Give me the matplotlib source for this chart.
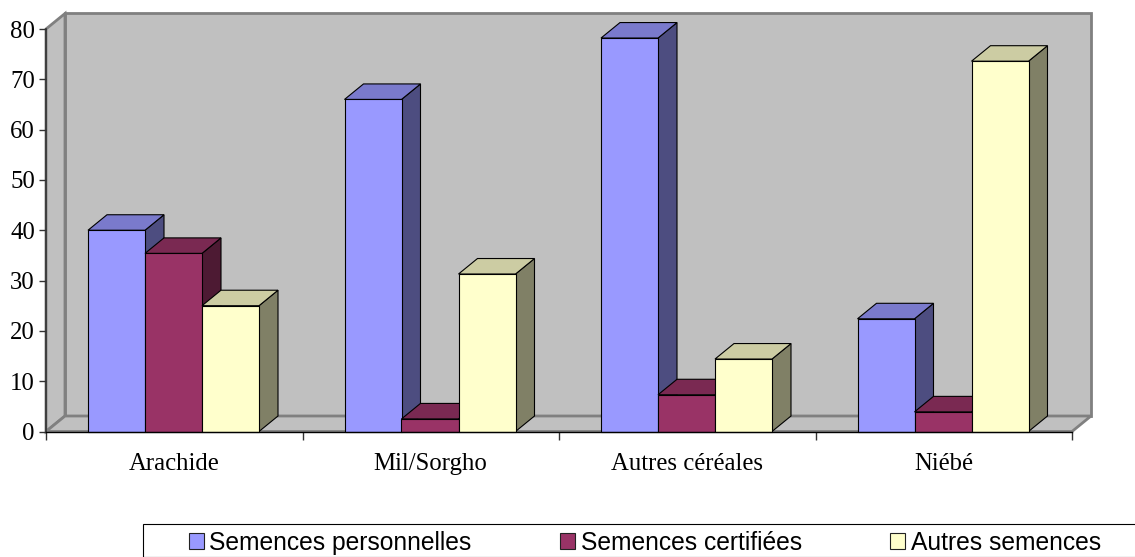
#!/usr/bin/env python3
import matplotlib
matplotlib.use('Agg')
import matplotlib.pyplot as plt
import numpy as np
from matplotlib.patches import Polygon, Rectangle

# Data
categories = ['Arachide', 'Mil/Sorgho', 'Autres céréales', 'Niébé']
series_names = ['Semences personnelles', 'Semences certifiées', 'Autres semences']
personnelles = [40, 66, 78.2, 22.4]
certifiees = [35.4, 2.5, 7.3, 3.9]
autres = [25, 31.3, 14.4, 73.6]
y_ticks = [0, 10, 20, 30, 40, 50, 60, 70, 80]

# front, top, side
colors = [
    ['#9999FF', '#7A7ACC', '#4D4D80'],
    ['#993366', '#7A2952', '#4D1A33'],
    ['#FFFFCC', '#CCCCA3', '#808066'],
]

W, H = 1135, 557
fig = plt.figure(figsize=(W / 100, H / 100), dpi=100, facecolor='white')
ax = fig.add_axes([46 / W, 1 - 431.5 / H, 1026 / W, 402.5 / H])
ax.set_facecolor('none')
ax.set_xlim(0, 4)
ax.set_ylim(0, 80)

# 3D depth in data units
dx = 19 / 256.5
dy = 15.5 / 5.03
bar_w = 57 / 256.5
start = 42 / 256.5

wall = '#C0C0C0'
wall_edge = '#808080'
ax.add_patch(Polygon([(dx, dy), (4 + dx, dy), (4 + dx, 80 + dy), (dx, 80 + dy)], closed=True,
                     facecolor=wall, edgecolor=wall_edge, lw=2, clip_on=False, zorder=1))
ax.add_patch(Polygon([(0, 0), (dx, dy), (dx, 80 + dy), (0, 80)], closed=True,
                     facecolor=wall, edgecolor=wall_edge, lw=2, clip_on=False, zorder=1))
ax.add_patch(Polygon([(0, 0), (4, 0), (4 + dx, dy), (dx, dy)], closed=True,
                     facecolor=wall, edgecolor=wall_edge, lw=2, clip_on=False, zorder=1))

x = np.arange(len(categories))
z = 2
for i in x:
    for j, vals in enumerate([personnelles, certifiees, autres]):
        x0 = i + start + j * bar_w
        x1 = x0 + bar_w
        v = vals[i]
        c = colors[j]
        ax.add_patch(Polygon([(x1, 0), (x1 + dx, dy), (x1 + dx, v + dy), (x1, v)], closed=True,
                             facecolor=c[2], edgecolor='black', lw=0.8, clip_on=False, zorder=z))
        ax.add_patch(Polygon([(x0, v), (x1, v), (x1 + dx, v + dy), (x0 + dx, v + dy)], closed=True,
                             facecolor=c[1], edgecolor='black', lw=0.8, clip_on=False, zorder=z))
        ax.bar(x0, v, width=bar_w, align='edge', color=c[0], edgecolor='black', lw=0.8,
               clip_on=False, zorder=z + 0.5)
        z += 1

for s in ['top', 'right']:
    ax.spines[s].set_visible(False)
ax.spines['left'].set_color('#333333')
ax.spines['bottom'].set_color('black')
ax.spines['left'].set_linewidth(1.2)
ax.spines['bottom'].set_linewidth(1)
ax.spines['left'].set_zorder(50)
ax.spines['bottom'].set_zorder(50)

ax.set_yticks(y_ticks)
ax.set_yticklabels([str(t) for t in y_ticks], family='Liberation Serif', fontsize=17.8)
ax.tick_params(axis='y', length=5, width=1, pad=3, color='#333333')
ax.set_xticks(np.arange(len(categories) + 1))
ax.set_xticklabels([])
ax.tick_params(axis='x', which='major', length=6, width=1, color='#333333')
ax.set_xticks(x + 0.5, minor=True)
ax.set_xticklabels(categories, minor=True, family='Liberation Serif', fontsize=17.8)
ax.tick_params(axis='x', which='minor', length=0, pad=15.5)

# Legend frame runs off the right side of the picture
fig.add_artist(Rectangle((142.5 / W, 0), 1200 / W, 1 - 524 / H, transform=fig.transFigure,
                         facecolor='white', edgecolor='black', lw=0.8))
handles = [Rectangle((0, 0), 1, 1, facecolor=colors[k][0], edgecolor='#222222', lw=0.8) for k in range(3)]
fig.legend(handles, series_names, loc='center left', bbox_to_anchor=(188.5 / W, 1 - 543 / H), ncol=3,
           frameon=False, prop={'family': 'Liberation Sans', 'size': 17.7},
           handlelength=0.62, handleheight=0.62, handletextpad=0.22, columnspacing=3.6,
           borderpad=0, borderaxespad=0)

fig.savefig('out.png', dpi=100, facecolor='white')
